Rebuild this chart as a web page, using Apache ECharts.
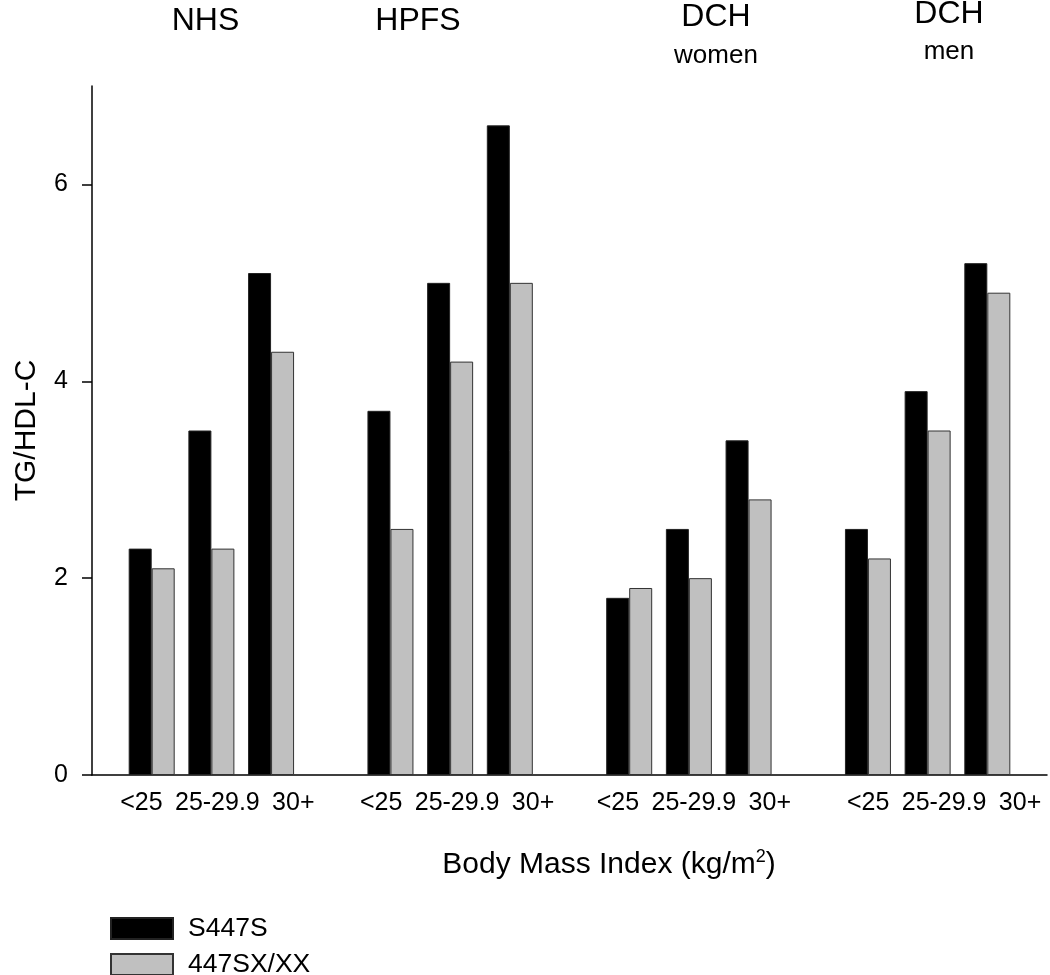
<!DOCTYPE html>
<html>
<head>
<meta charset="utf-8">
<script src="https://cdn.jsdelivr.net/npm/echarts@6/dist/echarts.min.js"></script>
<style>
  html, body { margin: 0; padding: 0; background: #fff; }
  #chart { width: 1050px; height: 975px; }
</style>
</head>
<body>
<div id="chart"></div>
<script>
// 类别：每组三个 BMI 段，组之间留空
var bmiLabels = ['', '<25', '25-29.9', '30+', '', '<25', '25-29.9', '30+', '', '<25', '25-29.9', '30+', '', '<25', '25-29.9', '30+', ''];
var seriesNames = ['S447S', '447SX/XX'];
var s447s = ['-', 2.3, 3.5, 5.1, '-', 3.7, 5.0, 6.6, '-', 1.8, 2.5, 3.4, '-', 2.5, 3.9, 5.2, '-'];
var sx447 = ['-', 2.1, 2.3, 4.3, '-', 2.5, 4.2, 5.0, '-', 1.9, 2.0, 2.8, '-', 2.2, 3.5, 4.9, '-'];
var yTicks = [0, 2, 4, 6];
var studies = ['NHS', 'HPFS', 'DCH', 'DCH'];
var subTitles = ['', '', 'women', 'men'];

var FONT = '"Liberation Sans", Arial, sans-serif';

// 标签水平偏移（每组略有不同）
var groupShift = [6, 7, 5, 16.5];
var rich = {};
bmiLabels.forEach(function (v, i) {
  var pos = i % 4;
  if (pos === 0) return;
  var shift = groupShift[Math.floor(i / 4)] + (pos - 2) * 16.25;
  rich['p' + i] = {
    fontSize: 25, fontFamily: FONT, color: '#000',
    padding: shift >= 0 ? [0, 0, 0, 2 * shift] : [0, -2 * shift, 0, 0]
  };
});

// 标题位置
var titleX = [205.5, 418, 716, 949];
var titleY = [21, 21, 17, 14];
var subY = [0, 0, 56, 52];

var graphics = [];
studies.forEach(function (s, i) {
  graphics.push({
    type: 'text', x: titleX[i], y: titleY[i],
    style: { text: s, font: '32px ' + FONT, fill: '#000', textAlign: 'center', textVerticalAlign: 'middle' }
  });
  if (subTitles[i]) {
    graphics.push({
      type: 'text', x: titleX[i], y: subY[i],
      style: { text: subTitles[i], font: '26px ' + FONT, fill: '#000', textAlign: 'center', textVerticalAlign: 'middle' }
    });
  }
});
graphics.push({
  type: 'text', x: 609, y: 864,
  style: {
    text: '{a|Body Mass Index (kg/m}{s|2}{a|)}',
    textAlign: 'center', textVerticalAlign: 'middle',
    rich: {
      a: { fontSize: 30, fontFamily: FONT, fill: '#000', color: '#000', lineHeight: 32, verticalAlign: 'bottom' },
      s: { fontSize: 18, fontFamily: FONT, fill: '#000', color: '#000', lineHeight: 32, verticalAlign: 'top' }
    }
  }
});

var myChart = echarts.init(document.getElementById('chart'), null, { renderer: 'canvas' });
myChart.setOption({
  backgroundColor: '#fff',
  animation: false,
  textStyle: { fontFamily: FONT },
  grid: { left: 92, right: 2, top: 86, bottom: 200, containLabel: false },
  legend: {
    orient: 'vertical',
    left: 110, top: 915,
    width: 300, height: 120,
    padding: 0,
    itemWidth: 62, itemHeight: 21, itemGap: 9,
    icon: 'rect',
    textStyle: { fontSize: 26.5, color: '#000', fontFamily: FONT, lineHeight: 24, padding: [0, 0, 0, 10] },
    data: seriesNames
  },
  xAxis: {
    type: 'category',
    data: bmiLabels,
    boundaryGap: false,
    axisLine: { lineStyle: { color: '#000', width: 1.5 } },
    axisTick: { show: false },
    splitLine: { show: false },
    axisLabel: {
      interval: 0,
      margin: 16,
      formatter: function (v, i) { return v ? '{p' + i + '|' + v + '}' : ''; },
      rich: rich
    }
  },
  yAxis: {
    type: 'value',
    min: 0, max: 7, interval: 2,
    name: 'TG/HDL-C',
    nameLocation: 'middle',
    nameGap: 50,
    nameTextStyle: { fontSize: 30, color: '#000', fontFamily: FONT },
    axisLine: { show: true, lineStyle: { color: '#000', width: 1.5 } },
    axisTick: { show: true, length: 10, lineStyle: { color: '#000', width: 1.5 }, customValues: yTicks },
    axisLabel: { fontSize: 25, color: '#000', margin: 24, fontFamily: FONT, customValues: yTicks },
    splitLine: { show: false }
  },
  series: [
    {
      name: seriesNames[0], type: 'bar', data: s447s,
      barWidth: 23, barGap: '0%',
      itemStyle: { color: '#000', borderColor: '#222', borderWidth: 1 }
    },
    {
      name: seriesNames[1], type: 'bar', data: sx447,
      barWidth: 23, barGap: '0%',
      itemStyle: { color: '#c0c0c0', borderColor: '#333', borderWidth: 1 }
    }
  ],
  graphic: graphics
});
</script>
</body>
</html>
